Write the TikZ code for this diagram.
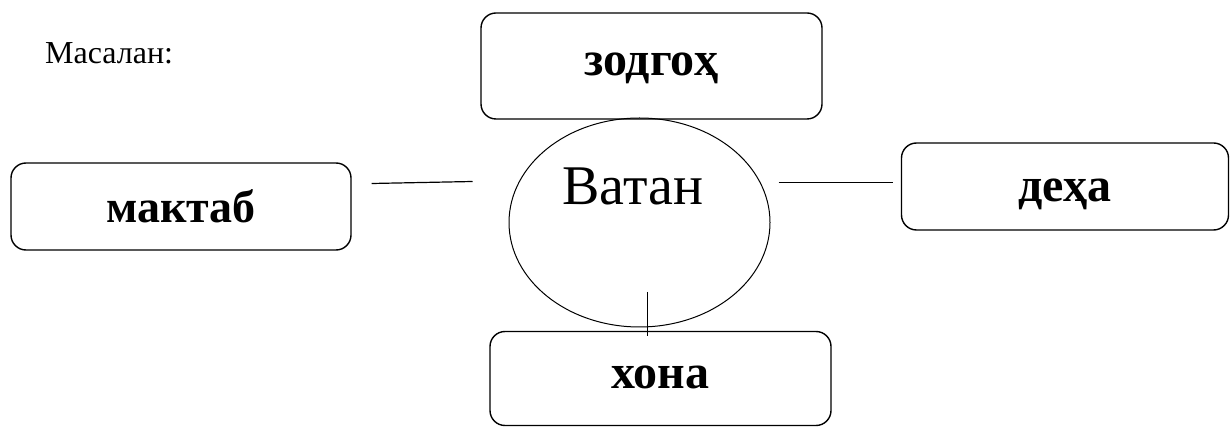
\documentclass[tikz,border=0pt]{standalone}
\usepackage{fontspec}
\setmainfont{Liberation Serif}
\usetikzlibrary{shapes.geometric,calc}

\tikzset{
  wordbox/.style={draw,line width=1.4pt,rounded corners=15pt,inner sep=0pt,
    text height=19pt,text depth=0pt,
    font=\fontsize{48}{54}\selectfont\bfseries},
  link/.style={line width=1.2pt}
}

\begin{document}
\begin{tikzpicture}[x=1pt,y=1pt]
  \useasboundingbox (0,0) rectangle (1231,-427);
  \node [anchor=base west,inner sep=0pt,font=\fontsize{32}{38}\selectfont] (masalan) at (45,-64) {Масалан:};
  \node [wordbox,minimum width=341,minimum height=106] (zodgoh) at (651.5,-66) {зодгоҳ};
  \node [wordbox,minimum width=340,minimum height=87,text height=33pt,
    font=\fontsize{46}{52}\selectfont\bfseries] (maktab) at (181,-206.5) {мактаб};
  \node [wordbox,minimum width=327,minimum height=87,text height=31pt] (deha) at (1065,-186.5) {деҳа};
  \node [wordbox,minimum width=341,minimum height=94,text height=20pt] (khona) at (660.5,-378.5) {хона};
  \node [draw,ellipse,line width=1pt,minimum width=261,minimum height=209] (vatan) at (639.5,-222.5) {};
  \node [font=\fontsize{56}{64}\selectfont] (vatanlabel) at (633,-186) {Ватан};
  \draw [link] ($(maktab.east)+(20,23)$) -- ($(vatan.west)+(-36,41)$);
  \draw [link] ($(vatan.east)+(8,40)$) -- ($(deha.west)+(-8,4)$);
  \draw [link] ($(khona.north)+(-13,39)$) -- ($(khona.north)+(-13,-5)$);
\end{tikzpicture}
\end{document}
